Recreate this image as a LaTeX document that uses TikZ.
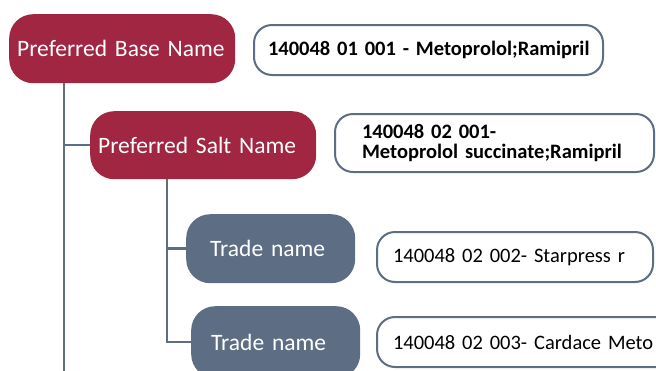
\documentclass[tikz,border=0pt]{standalone}
\usepackage{fontspec}
\setmainfont{Carlito}[WordSpace=0.75]
\definecolor{plum}{RGB}{160,38,66}
\definecolor{slate}{RGB}{93,109,132}
\begin{document}
\begin{tikzpicture}[x=1pt,y=-1pt,
  rootbox/.style={fill=plum, draw=none, rounded corners=24pt, text=white, anchor=north west,
    font=\fontsize{23.5}{27}\selectfont, align=left, inner ysep=0pt},
  tradebox/.style={fill=slate, draw=none, rounded corners=24pt, text=white, anchor=north west,
    font=\fontsize{23.5}{27}\selectfont, align=left, inner ysep=0pt},
  codebox/.style={fill=white, draw=slate, line width=2pt, rounded corners=18pt, anchor=north west,
    font=\fontsize{20.5}{19.5}\selectfont, align=left, inner ysep=0pt, inner xsep=8pt},
  conn/.style={draw=slate, line width=2.5pt}]
\useasboundingbox (0,0) rectangle (656,370);
\clip (0,0) rectangle (656,370);
% coloured boxes
\node[rootbox, inner xsep=8pt, text width=210pt, minimum height=69pt] (base) at (9,14) {Preferred Base Name};
\node[rootbox, inner xsep=8pt, text width=210pt, minimum height=68pt] (salt) at (90,111) {Preferred Salt Name};
\node[tradebox, inner xsep=24pt, text width=121pt, minimum height=69pt] (trade1) at (186,214) {Trade name};
\node[tradebox, inner xsep=20pt, text width=129pt, minimum height=72pt] (trade2) at (191,306) {Trade name};
% code boxes
\node[codebox, text width=333pt, minimum height=50pt] (code1) at (253,24) {\hspace*{6pt}\bfseries 140048 01 001 - Metoprolol;Ramipril};
\node[codebox, text width=303pt, minimum height=58pt] (code2) at (334,113) {\hspace*{19pt}\bfseries 140048 02 001-\\\hspace*{19pt}\bfseries Metoprolol succinate;Ramipril};
\node[codebox, text width=260pt, minimum height=50pt] (code3) at (376,231) {\hspace*{8pt}140048 02 002- Starpress r};
\node[codebox, text width=284pt, minimum height=50pt] (code4) at (376,316) {\hspace*{8pt}140048 02 003- Cardace Meto};
% connectors
\coordinate (bottom) at (0,380);
\coordinate (bstem) at ([xshift=55pt]base.south west);
\coordinate (sstem) at ([xshift=77pt]salt.south west);
\draw[conn] (bstem) -- (bstem |- bottom);
\draw[conn] (bstem |- salt.west) -- (salt.west);
\draw[conn] (sstem) |- (trade2.west);
\draw[conn] (sstem |- trade1.west) -- (trade1.west);
\end{tikzpicture}
\end{document}
